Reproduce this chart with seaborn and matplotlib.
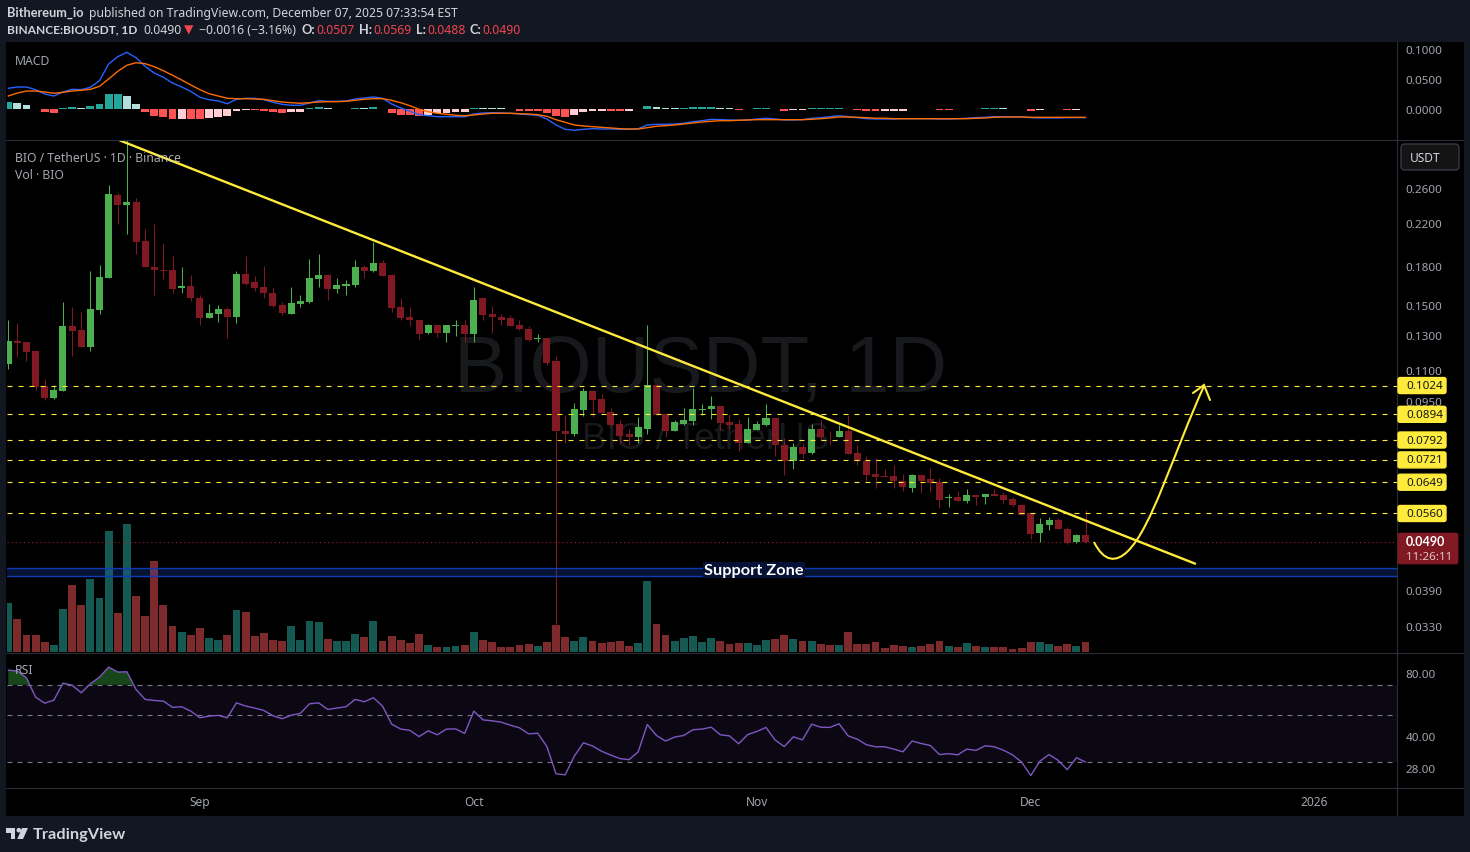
#!/usr/bin/env python3
import matplotlib
matplotlib.use("Agg")
import matplotlib.pyplot as plt
import numpy as np
import seaborn as sns
from matplotlib.patches import FancyBboxPatch, PathPatch, Polygon, Circle
from matplotlib.path import Path
from matplotlib.ticker import NullLocator, FixedLocator, FixedFormatter

W, H = 1470, 853

# candles, one per day from Aug 11 (day 0) to Dec 7 2025
opens = [
    .1136, .1266, .1255, .1203, .1020, .0964, .1000, .1353, .1328, .1231,
    .1459, .1697, .2521, .2394, .2438, .2029, .1795, .1770, .1762, .1619,
    .1634, .1551, .1405, .1438, .1466, .1412, .1729, .1665, .1627, .1588,
    .1494, .1438, .1501, .1522, .1689, .1721, .1611, .1634, .1649, .1787,
    .1754, .1825, .1721, .1480, .1412, .1398, .1309, .1365, .1309, .1359,
    .1365, .1303, .1544, .1432, .1418, .1405, .1365, .1340, .1278, .1284,
    .1147, .0828, .0816, .0911, .1000, .0959, .0902, .0853, .0813, .0802,
    .0836, .1025, .0894, .0828, .0853, .0865, .0912, .0915, .0928, .0861,
    .0853, .0782, .0832, .0849, .0877, .0775, .0719, .0768, .0746, .0836,
    .0809, .0805, .0828, .0746, .0719, .0676, .0667, .0667, .0654, .0633,
    .0670, .0658, .0649, .0602, .0604, .0595, .0612, .0604, .0615, .0612,
    .0601, .0584, .0560, .0511, .0531, .0544, .0521, .0489, .0507,
]
highs = [
    .1392, .1377, .1255, .1207, .1057, .1025, .1522, .1480, .1452, .1754,
    .1809, .2643, .2545, .3253, .2486, .2138, .2198, .2002, .1884, .1795,
    .1721, .1573, .1501, .1494, .1480, .1754, .1891, .1713, .1803, .1619,
    .1522, .1627, .1573, .1864, .1900, .1729, .1697, .1681, .1847, .1809,
    .2020, .1847, .1729, .1544, .1480, .1398, .1372, .1365, .1365, .1398,
    .1392, .1627, .1544, .1487, .1432, .1425, .1392, .1359, .1303, .1284,
    .1175, .0890, .0941, .1010, .1000, .0985, .0919, .0869, .0836, .0881,
    .1365, .1025, .0898, .0869, .0923, .1010, .0937, .0977, .0928, .0894,
    .0873, .0881, .0865, .0937, .0877, .0798, .0782, .0782, .0853, .0869,
    .0825, .0849, .0890, .0775, .0733, .0726, .0692, .0703, .0676, .0676,
    .0673, .0695, .0661, .0615, .0624, .0630, .0612, .0615, .0630, .0621,
    .0604, .0587, .0560, .0549, .0552, .0549, .0526, .0509, .0569,
]
lows = [
    .1109, .1169, .1147, .1005, .0955, .0959, .1000, .1175, .1231, .1208,
    .1432, .1697, .2189, .2090, .1900, .1787, .1573, .1689, .1581, .1581,
    .1529, .1365, .1405, .1385, .1284, .1378, .1642, .1596, .1544, .1480,
    .1425, .1432, .1480, .1508, .1627, .1536, .1581, .1566, .1627, .1697,
    .1746, .1713, .1452, .1398, .1359, .1272, .1303, .1290, .1260, .1296,
    .1255, .1260, .1398, .1309, .1365, .1353, .1328, .1266, .1255, .1130,
    .0327, .0782, .0809, .0885, .0881, .0898, .0841, .0779, .0775, .0782,
    .0813, .0890, .0805, .0825, .0849, .0849, .0890, .0873, .0832, .0836,
    .0753, .0782, .0832, .0845, .0733, .0670, .0692, .0726, .0743, .0790,
    .0775, .0805, .0743, .0703, .0654, .0633, .0664, .0633, .0624, .0621,
    .0618, .0621, .0574, .0577, .0595, .0589, .0584, .0587, .0609, .0589,
    .0577, .0557, .0497, .0490, .0519, .0521, .0484, .0487, .0488,
]
closes = [
    .1266, .1249, .1197, .1015, .0964, .1005, .1353, .1322, .1231, .1466,
    .1705, .2533, .2394, .2438, .2020, .1787, .1762, .1754, .1611, .1634,
    .1544, .1405, .1445, .1466, .1412, .1729, .1657, .1619, .1581, .1487,
    .1445, .1508, .1529, .1697, .1721, .1611, .1642, .1657, .1787, .1754,
    .1825, .1713, .1473, .1405, .1392, .1303, .1365, .1309, .1365, .1365,
    .1303, .1536, .1425, .1412, .1398, .1359, .1334, .1272, .1282, .1141,
    .0825, .0816, .0915, .1000, .0955, .0898, .0849, .0809, .0802, .0841,
    .1025, .0890, .0828, .0861, .0869, .0915, .0918, .0928, .0857, .0849,
    .0782, .0836, .0853, .0877, .0772, .0719, .0768, .0743, .0836, .0805,
    .0806, .0828, .0743, .0716, .0673, .0664, .0665, .0652, .0636, .0670,
    .0654, .0646, .0598, .0604, .0595, .0612, .0604, .0615, .0609, .0598,
    .0582, .0557, .0509, .0533, .0544, .0521, .0487, .0506, .0490,
]
# no scale shown for volume in the picture, so these are relative units
volumes = [
    49.3, 33.3, 17.3, 17.3, 10.3, 7.3, 43.3, 67.3, 47.3, 73.3,
    54.3, 121.3, 39.3, 128.3, 56.3, 36.3, 91.3, 47.3, 26.3, 20.3,
    17.3, 24.3, 14.3, 12.3, 17.3, 42.3, 40.3, 16.3, 19.3, 12.3,
    11.3, 26.3, 12.3, 31.3, 30.3, 13.3, 11.3, 11.3, 18.3, 15.3,
    31.3, 11.3, 16.3, 12.3, 9.3, 18.3, 7.3, 5.3, 5.3, 6.3,
    7.3, 20.3, 12.3, 10.3, 5.3, 5.3, 7.3, 8.3, 6.3, 10.3,
    27.3, 15.3, 11.3, 15.3, 11.3, 9.3, 10.3, 11.3, 6.3, 9.3,
    71.3, 28.3, 17.3, 11.3, 14.3, 16.3, 10.3, 14.3, 11.3, 8.3,
    9.3, 9.3, 7.3, 12.3, 13.3, 17.3, 13.3, 11.3, 11.3, 8.3,
    7.3, 7.3, 20.3, 8.3, 8.3, 10.3, 4.3, 7.3, 6.3, 5.3,
    6.3, 8.3, 11.3, 6.3, 5.3, 9.3, 6.3, 5.3, 5.3, 5.3,
    3.3, 4.3, 10.3, 10.3, 8.3, 6.3, 8.3, 6.3, 10.3,
]
macd_line = [
    .0348, .0369, .0369, .0325, .0254, .0221, .0287, .0331, .0325, .0364,
    .0472, .0746, .0866, .0938, .0849, .0708, .0598, .0528, .0434, .0369,
    .0298, .0200, .0161, .0139, .0095, .0167, .0184, .0184, .0161, .0118,
    .0085, .0069, .0069, .0107, .0144, .0134, .0134, .0139, .0172, .0189,
    .0205, .0184, .0090, .0025, -.0030, -.0085, -.0102, -.0118, -.0118, -.0118,
    -.0118, -.0074, -.0057, -.0052, -.0057, -.0062, -.0074, -.0085, -.0095, -.0156,
    -.0254, -.0325, -.0341, -.0325, -.0315, -.0320, -.0320, -.0325, -.0325, -.0315,
    -.0254, -.0243, -.0243, -.0238, -.0226, -.0200, -.0184, -.0161, -.0167, -.0172,
    -.0177, -.0172, -.0156, -.0144, -.0156, -.0172, -.0172, -.0167, -.0144, -.0134,
    -.0118, -.0102, -.0118, -.0134, -.0151, -.0156, -.0156, -.0156, -.0151, -.0151,
    -.0151, -.0151, -.0156, -.0156, -.0151, -.0144, -.0134, -.0128, -.0118, -.0118,
    -.0118, -.0118, -.0134, -.0139, -.0139, -.0139, -.0134, -.0134, -.0134,
]
macd_signal = [
    .0221, .0270, .0303, .0303, .0287, .0266, .0282, .0303, .0315, .0331,
    .0380, .0500, .0626, .0725, .0767, .0751, .0702, .0636, .0561, .0484,
    .0402, .0325, .0259, .0221, .0184, .0177, .0177, .0172, .0167, .0144,
    .0123, .0111, .0102, .0111, .0123, .0128, .0128, .0134, .0151, .0167,
    .0177, .0177, .0151, .0111, .0062, .0003, -.0036, -.0062, -.0079, -.0095,
    -.0102, -.0090, -.0074, -.0062, -.0062, -.0062, -.0069, -.0074, -.0085, -.0111,
    -.0167, -.0210, -.0254, -.0270, -.0282, -.0292, -.0303, -.0315, -.0320, -.0320,
    -.0298, -.0275, -.0266, -.0254, -.0238, -.0221, -.0205, -.0193, -.0184, -.0184,
    -.0177, -.0172, -.0167, -.0167, -.0167, -.0167, -.0167, -.0167, -.0161, -.0151,
    -.0139, -.0123, -.0123, -.0128, -.0134, -.0144, -.0144, -.0151, -.0151, -.0151,
    -.0151, -.0151, -.0151, -.0151, -.0151, -.0151, -.0144, -.0139, -.0128, -.0123,
    -.0123, -.0123, -.0128, -.0128, -.0128, -.0128, -.0128, -.0128, -.0128,
]
macd_hist = [
    .0123, .0107, .0074, .0016, -.0041, -.0057, .0025, .0041, .0025, .0057,
    .0090, .0254, .0254, .0221, .0090, -.0041, -.0107, -.0123, -.0156, -.0156,
    -.0156, -.0156, -.0139, -.0123, -.0107, -.0025, -.0016, -.0016, -.0025, -.0041,
    -.0057, -.0041, -.0041, .0025, .0041, .0025, .0016, .0016, .0025, .0025,
    .0041, .0016, -.0057, -.0090, -.0090, -.0107, -.0090, -.0057, -.0057, -.0041,
    -.0041, .0025, .0025, .0025, .0025, .0016, -.0025, -.0025, -.0025, -.0057,
    -.0107, -.0123, -.0090, -.0041, -.0025, -.0025, -.0025, -.0025, -.0025, .0016,
    .0057, .0041, .0025, .0025, .0025, .0041, .0041, .0041, .0025, .0025,
    -.0016, .0016, .0025, .0025, .0016, -.0025, -.0016, -.0016, .0025, .0025,
    .0025, .0025, .0016, -.0016, -.0025, -.0025, -.0025, -.0025, -.0025, .0016,
    .0016, .0016, -.0016, -.0016, .0016, .0016, .0016, .0025, .0025, .0025,
    .0016, .0016, -.0025, -.0016, .0016, .0016, -.0016, -.0016, .0016,
]
# S = growing bar (strong colour), L = fading bar (light colour)
hist_shade = (
    "SLLLSSSSLS" "SSSLLSSSSL" "SSLLLLLSSS" "SLLSSLLLSL" "SLSSSSLLLL" "LSLLLLSSSS"
    "SSLLLLSSLS" "SLLLSSSSLL" "SSSSLSLLSS" "SSLSSSLLLS" "SSSSSSSSSL" "LLSLSSSLS"
)
rsi = [
    82.3, 81.4, 75.6, 61.1, 57.2, 59.1, 71.3, 69.7, 64.1, 70.8,
    76.2, 85.0, 80.5, 80.8, 66.5, 59.6, 58.9, 58.5, 54.6, 55.0,
    52.4, 48.7, 49.6, 50.0, 48.7, 57.4, 55.4, 54.2, 52.8, 49.8,
    48.2, 50.1, 51.1, 56.8, 57.4, 53.4, 54.2, 55.0, 59.6, 58.1,
    60.7, 55.4, 45.4, 43.0, 42.4, 39.6, 42.2, 40.4, 43.0, 43.1,
    41.0, 52.4, 47.6, 47.1, 46.4, 44.9, 43.6, 40.8, 41.1, 35.5,
    26.3, 26.0, 31.9, 37.0, 35.7, 33.7, 32.3, 31.1, 30.7, 33.5,
    45.2, 40.1, 37.7, 39.4, 40.1, 42.7, 43.0, 43.9, 40.4, 39.9,
    36.6, 40.5, 41.9, 43.8, 38.1, 35.5, 39.5, 38.2, 45.4, 43.9,
    43.8, 45.6, 39.9, 38.5, 36.2, 35.4, 35.4, 34.5, 33.5, 37.7,
    36.7, 35.9, 32.5, 32.8, 32.4, 34.5, 34.0, 35.8, 35.4, 34.1,
    32.4, 29.9, 25.8, 30.2, 32.5, 30.5, 27.5, 31.4, 29.9,
]

levels = [0.1024, 0.0894, 0.0792, 0.0721, 0.0649, 0.0560]
price_ticks = [0.26, 0.22, 0.18, 0.15, 0.13, 0.11, 0.095, 0.039, 0.033]
macd_ticks = [0.10, 0.05, 0.0]
rsi_ticks = [80, 40, 28]
month_days = [21, 51, 82, 112, 143]
month_labels = ["Sep", "Oct", "Nov", "Dec", "2026"]
last_price = 0.0490
zone_low, zone_high = 0.0417, 0.0433
trend_days = [12.25, 130.0]
trend_prices = [0.3253, 0.0442]

FRAME = "#131722"
BLACK = "#000000"
GREY = "#a3a6af"
LIGHT = "#d1d4dc"
SEP = "#2a2e39"
YELLOW = "#ffeb3b"
UP = "#4caf50"
DOWN = "#801922"
FONT = ["Noto Sans", "DejaVu Sans"]
BOLD = ["Lato", "DejaVu Sans"]

sns.set_theme(style="dark", rc={"axes.facecolor": BLACK, "figure.facecolor": FRAME})
plt.rcParams["font.family"] = FONT

days = np.arange(len(closes))
opens = np.array(opens)
highs = np.array(highs)
lows = np.array(lows)
closes = np.array(closes)
rsi = np.array(rsi)
is_up = closes >= opens

fig = plt.figure(figsize=(W / 100, H / 100), dpi=100)


def panel(x0, y0, x1, y1, zorder=1):
    ax = fig.add_axes([x0 / W, 1 - y1 / H, (x1 - x0) / W, (y1 - y0) / H], zorder=zorder)
    ax.patch.set_alpha(0)
    for side in ax.spines.values():
        side.set_visible(False)
    return ax


def style_x(ax):
    # 9.13 px per day, day 0 is centred at x=8.2
    ax.set_xlim((7 - 8.2) / 9.13, (1397 - 8.2) / 9.13)
    ax.set_xlabel("")
    ax.set_ylabel("")
    ax.set_xticks([])


def style_right(ax, ticks, fmt):
    ax.yaxis.tick_right()
    ax.yaxis.set_major_locator(FixedLocator(ticks))
    ax.yaxis.set_major_formatter(FixedFormatter([fmt.format(t) for t in ticks]))
    ax.yaxis.set_minor_locator(NullLocator())
    ax.tick_params(axis="y", length=0, pad=6.2, labelsize=8.4, labelcolor=GREY)


bg = panel(6, 43, 1464, 817, zorder=0)
bg.patch.set_alpha(1)
bg.set_facecolor(BLACK)
bg.set_xticks([])
bg.set_yticks([])

# MACD pane
ax_macd = panel(7, 43, 1397, 140, zorder=2)
hist_kind = [("up" if v >= 0 else "dn") + s for v, s in zip(macd_hist, hist_shade)]
sns.barplot(
    x=days, y=macd_hist, hue=hist_kind, native_scale=True, dodge=False, width=0.86,
    saturation=1, errorbar=None, legend=False, linewidth=0, ax=ax_macd,
    palette={"upS": "#26a69a", "upL": "#b2dfdb", "dnS": "#ff5252", "dnL": "#ffcdd2"},
)
sns.lineplot(x=days, y=macd_line, color="#2962ff", lw=1.0, errorbar=None, ax=ax_macd)
sns.lineplot(x=days, y=macd_signal, color="#ff6d00", lw=1.0, errorbar=None, ax=ax_macd)
ax_macd.set_ylim(-0.0484, 0.1107)
style_x(ax_macd)
style_right(ax_macd, macd_ticks, "{:.4f}")

# volume sits under the candles
ax_vol = panel(7, 141, 1397, 653.4, zorder=1)
sns.barplot(
    x=days, y=volumes, hue=["up" if u else "dn" for u in is_up], native_scale=True,
    dodge=False, width=0.86, saturation=1, errorbar=None, legend=False, linewidth=0, ax=ax_vol,
    palette={"up": "#155a52", "dn": "#7d2a2c"},
)
ax_vol.set_ylim(0, 512.4)
style_x(ax_vol)
ax_vol.set_yticks([])

# price pane, log scale
ax_price = panel(7, 141.5, 1397, 653.5, zorder=2)
ax_price.set_yscale("log")
ax_price.set_ylim(0.26 * np.exp(-464.5 / 212), 0.26 * np.exp(47.5 / 212))
style_x(ax_price)
style_right(ax_price, price_ticks, "{:.4f}")

colors = np.where(is_up, UP, DOWN)
wicks = ax_price.vlines(days, lows, highs, colors=colors, lw=0.75, zorder=3)
wicks.set_snap(True)
ax_price.bar(
    days, np.abs(closes - opens), bottom=np.minimum(opens, closes), width=0.77,
    color=colors, lw=0, zorder=4,
)

ax_price.axhspan(zone_low, zone_high, facecolor="#1a4fd0", alpha=0.25, lw=0, zorder=5)
for edge in (zone_low, zone_high):
    ax_price.axhline(edge, color="#0f3cb4", lw=1.0, zorder=5)
for lvl in levels:
    ax_price.axhline(lvl, color=YELLOW, lw=0.8, ls=(0, (4.5, 5.4)), zorder=5)
ax_price.axhline(last_price, color="#a3202a", lw=0.8, ls=(0, (1, 2.7)), zorder=2)
sns.lineplot(x=trend_days, y=trend_prices, color=YELLOW, lw=1.7, errorbar=None, ax=ax_price, zorder=6)
ax_price.set_xlim((7 - 8.2) / 9.13, (1397 - 8.2) / 9.13)
ax_price.set_xlabel("")
ax_price.set_ylabel("")

# RSI pane, also log scale
ax_rsi = panel(7, 654.5, 1397, 788.5, zorder=2)
ax_rsi.set_yscale("log")
ax_rsi.set_ylim(70 * np.exp(-102.7 / 90.9), 70 * np.exp(31.3 / 90.9))
ax_rsi.axhspan(30, 70, color="#7e57c2", alpha=0.1, lw=0)
ax_rsi.fill_between(days, 70, rsi, where=rsi > 70, interpolate=True, color="#1f5e24", alpha=0.75, lw=0)
for lvl in (70, 50, 30):
    ax_rsi.axhline(lvl, color="#787b86", lw=0.8, ls=(0, (4.5, 4.5)))
sns.lineplot(x=days, y=rsi, color="#7e57c2", lw=1.0, errorbar=None, ax=ax_rsi)
style_x(ax_rsi)
style_right(ax_rsi, rsi_ticks, "{:.2f}")
ax_rsi.set_xticks(month_days)
ax_rsi.set_xticklabels(month_labels, color=GREY, fontsize=8.6)
ax_rsi.tick_params(axis="x", length=0, pad=5.5)

# overlay in pixel coordinates for labels and the hand drawings
over = panel(0, 0, W, H, zorder=6)
over.set_xlim(0, W)
over.set_ylim(H, 0)
over.set_xticks([])
over.set_yticks([])


def y_px(price):
    return H - ax_price.transData.transform((0, price))[1]


def label(x, y, s, color=LIGHT, size=8.6, **kw):
    kw.setdefault("va", "center")
    return over.text(x, y, s, color=color, fontsize=size, **kw)


# watermark goes under the candles, so it lives on the volume axes
for x, y, s, size, ha in (
    (701, 372, "BIOUSDT, 1D", 57.6, "center"),
    (582, 440, "BIO / TetherUS", 26.6, "left"),
):
    ax_vol.annotate(
        s, xy=(x, H - y), xycoords="figure pixels", family="Liberation Sans",
        fontsize=size, color="#17191d", ha=ha, va="center",
    )

for y in (140.5, 654, 788.5):
    over.plot([6, 1464], [y, y], color=SEP, lw=0.8)
over.plot([1397.5, 1397.5], [43, 817], color=SEP, lw=0.8)

# header
label(7, 13, "Bithereum_io", family=BOLD, weight="bold", size=9.2)
label(89, 13, "published on TradingView.com, December 07, 2025 07:33:54 EST", size=8.8)
label(7, 30, "BINANCE:BIOUSDT, 1D", family=BOLD, weight="bold", size=8.6)
label(143, 30, "0.0490", size=8.8)
label(184, 30, "\u25bc", color="#f0444f", size=8.8)
label(199, 30, "\u22120.0016 (\u22123.16%)", size=8.8)
for x0, name, x1, val in ((302, "O:", 316, "0.0507"), (359, "H:", 373, "0.0569"),
                          (416, "L:", 427, "0.0488"), (470, "C:", 482, "0.0490")):
    label(x0, 30, name, family=BOLD, weight="bold", size=9.2)
    label(x1, 30, val, color="#f0444f", size=8.8)

label(15, 61, "MACD", color=GREY, size=8.8)
label(15, 158, "BIO / TetherUS \u00b7 1D \u00b7 Binance", color=LIGHT, size=8.8, alpha=0.8)
label(15, 175, "Vol \u00b7 BIO", color=GREY, size=8.8)
label(15, 671, "RSI", color=GREY, size=8.8)

# level badges
for lvl in levels:
    y = y_px(lvl)
    over.add_patch(FancyBboxPatch((1398, y - 8), 48, 16, boxstyle="round,pad=0,rounding_size=2",
                                  fc=YELLOW, ec=YELLOW, lw=1, zorder=8))
    label(1406, y, f"{lvl:.4f}", color=FRAME, size=8.4, zorder=9)

# last price badge
over.add_patch(FancyBboxPatch((1398, 534), 60, 31, boxstyle="round,pad=0,rounding_size=2",
                              fc=DOWN, ec=DOWN, lw=0.5, zorder=8))
label(1406, 542.5, "0.0490", color="white", size=9, family=BOLD, weight="bold", zorder=9)
label(1406, 557, "11:26:11", color="#e0c4c8", size=8.4, zorder=9)

# currency button
over.add_patch(FancyBboxPatch((1401, 145), 58, 26, boxstyle="round,pad=0,rounding_size=4",
                              fc="#141414", ec="#363a45", lw=1, zorder=8))
label(1410, 158, "USDT", color=LIGHT, size=8.6, zorder=9)

# zone caption
label(754, 571, "Support Zone", color="white", size=11.8, family=BOLD, weight="bold", ha="center", zorder=9,
      bbox=dict(fc="#061235", ec="none", pad=0.6))

# hand drawn projection arrow
curve = Path(
    [(1094, 543), (1104, 563), (1116, 564), (1128, 552), (1152, 528), (1172, 458), (1204, 387)],
    [Path.MOVETO, Path.CURVE4, Path.CURVE4, Path.CURVE4, Path.CURVE4, Path.CURVE4, Path.CURVE4],
)
over.add_patch(PathPatch(curve, fc="none", ec=YELLOW, lw=1.5, zorder=7))
over.plot([1193, 1204, 1210], [394, 386, 401], color=YELLOW, lw=1.5, zorder=7, solid_joinstyle="miter")

# footer logo
over.add_patch(Polygon([(6, 829), (15.5, 829), (15.5, 840), (11, 840), (11, 833.5), (6, 833.5)], fc=LIGHT, ec="none"))
over.add_patch(Circle((18.8, 831.2), 2.3, fc=LIGHT, ec="none"))
over.add_patch(Polygon([(22, 829), (28, 829), (23, 840), (17.3, 840)], fc=LIGHT, ec="none"))
label(33, 835, "TradingView", size=11.8, family=BOLD, weight="bold")

fig.savefig("out.png", dpi=100, facecolor=FRAME)
